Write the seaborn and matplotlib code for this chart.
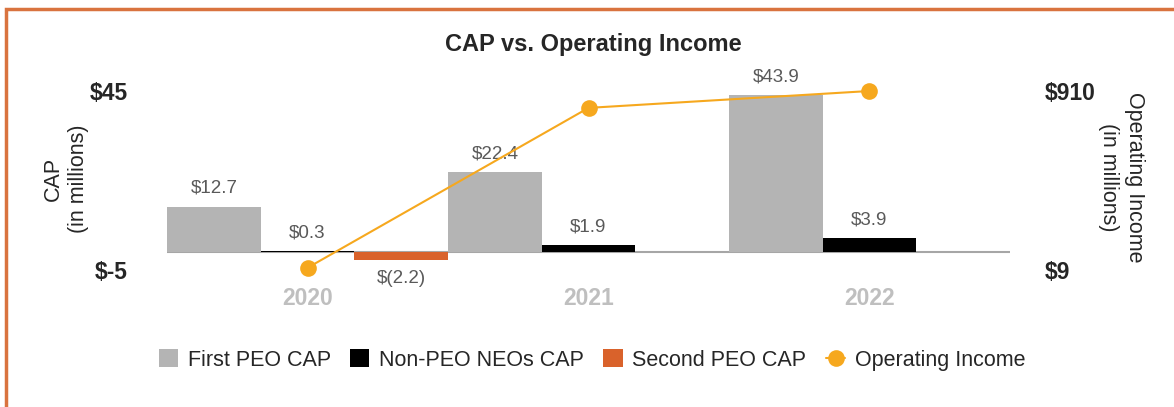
import pandas as pd
import matplotlib
matplotlib.use('Agg')
import matplotlib.pyplot as plt
import seaborn as sns
from matplotlib.patches import Rectangle

years = ['2020', '2021', '2022']
series_names = ['First PEO CAP', 'Non-PEO NEOs CAP', 'Second PEO CAP']
first_peo = [12.7, 22.4, 43.9]
non_peo = [0.3, 1.9, 3.9]
second_peo = [-2.2, None, None]
op_income = [20, 825, 910]

bar_colors = ['#B4B4B4', '#000000', '#D9622B']
line_color = '#F6A81E'

df = pd.DataFrame({
    'Year': years * 3,
    'Series': [s for s in series_names for _ in years],
    'CAP': first_peo + non_peo + second_peo,
}).dropna()

sns.set_style('white')
plt.rcParams['font.family'] = ['Liberation Sans', 'DejaVu Sans']

fig = plt.figure(figsize=(11.74, 4.07), dpi=100)
ax = fig.add_axes([167 / 1174, 1 - 270 / 407, 843 / 1174, 179 / 407])

ax.axhline(0, color='#A6A6A6', lw=1.5, zorder=0)
sns.barplot(data=df, x='Year', y='CAP', hue='Series', order=years,
            hue_order=series_names, palette=bar_colors, width=1.0, gap=0,
            saturation=1, errorbar=None, linewidth=0, ax=ax)

def money(v):
    return f'${v:.1f}' if v >= 0 else f'$({-v:.1f})'

for c in ax.containers:
    ax.bar_label(c, fmt=money, padding=7, fontsize=13.5, color='#595959')

bar_handles, bar_labels = ax.get_legend_handles_labels()
ax.get_legend().remove()

ax2 = ax.twinx()
sns.pointplot(x=years, y=op_income, order=years, color=line_color,
              markers='o', markersize=12, linewidth=1.5, errorbar=None, ax=ax2)
for ln in ax2.lines:
    ln.set_markeredgewidth(0)
    ln.set_clip_on(False)

ax.set_ylim(-5, 45)
ax2.set_ylim(9, 910)
ax.set_xlim(-0.5, 2.5)

ax.set_yticks([-5, 45], ['$-5', '$45'], fontsize=16.5, fontweight='bold')
ax2.set_yticks([9, 910], ['$9', '$910'], fontsize=16.5, fontweight='bold')
ax.tick_params(axis='y', length=0, pad=28)
ax2.tick_params(axis='y', length=0, pad=25)
ax.set_xticks(range(3), years, fontsize=16.5, fontweight='bold', color='#BFBFBF')
ax.tick_params(axis='x', length=0, pad=12)
ax.set_xlabel('')

ax.set_ylabel('CAP\n(in millions)', fontsize=15.5, va='center', linespacing=1.3)
ax.yaxis.set_label_coords(-0.12, 0.51)
ax2.set_ylabel('Operating Income\n(in millions)', fontsize=15.5, rotation=270,
               va='center', linespacing=1.3)
ax2.yaxis.set_label_coords(1.132, 0.52)

for a in (ax, ax2):
    for s in a.spines.values():
        s.set_visible(False)

fig.text(593 / 1174, 1 - 44 / 407, 'CAP vs. Operating Income', fontsize=17,
         fontweight='bold', ha='center', va='center')

line_handle = ax2.lines[0]
fig.legend(bar_handles + [line_handle], bar_labels + ['Operating Income'],
           loc='center', bbox_to_anchor=(592 / 1174, 1 - 360 / 407), ncol=4,
           frameon=False, fontsize=15.5, handlelength=0.9, handleheight=0.9,
           handletextpad=0.45, columnspacing=0.9)

fig.patches.append(Rectangle((6 / 1174, -0.1), 1.2, 1.1 - 9 / 407,
                             transform=fig.transFigure, fill=False,
                             edgecolor='#D9733F', lw=2.5, clip_on=False))

fig.savefig('out.png', dpi=100)
